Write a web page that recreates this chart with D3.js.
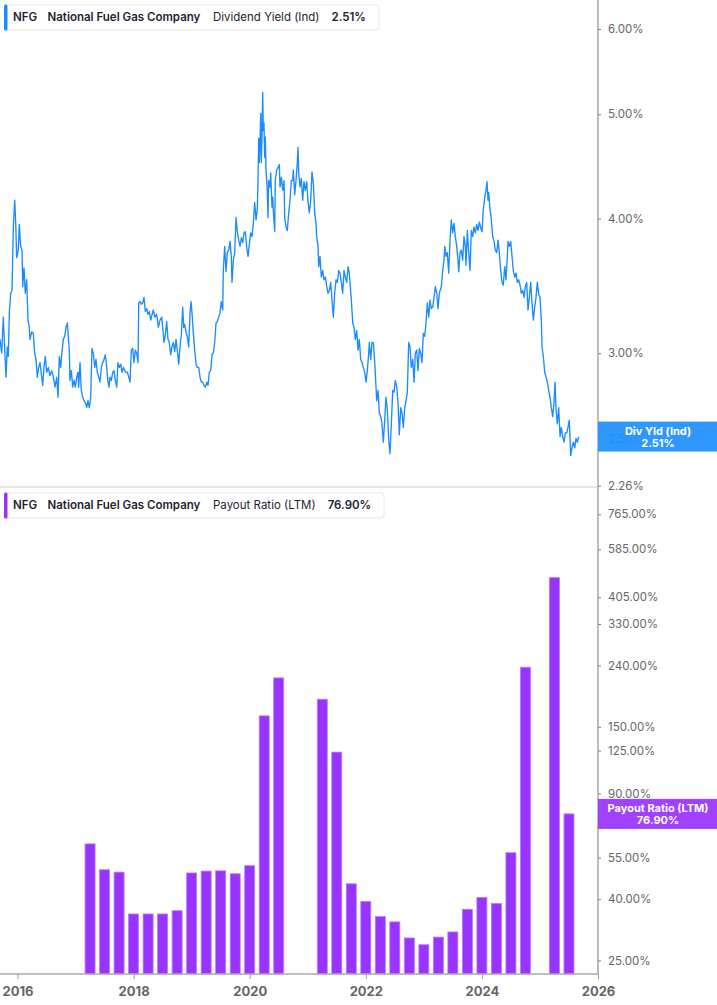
<html lang="en">
<head>
  <script src="https://d3js.org/d3.v7.min.js"></script>
  <style>
    body { margin: 0; background: white; }
    svg { font-family: Inter, "Noto Sans", sans-serif; }
    .tick text { fill: #666; }
  </style>
</head>
<body>
  <svg id="chart" width="717" height="1005"></svg>

  <script>
    // dividend yield (ind), % - dates as decimal years
    const yieldDates = [
      2015.699, 2015.728, 2015.755, 2015.785, 2015.802, 2015.824, 2015.842, 2015.859, 2015.883, 2015.905,
      2015.928, 2015.952, 2015.969, 2015.986, 2016.014, 2016.031, 2016.055, 2016.078, 2016.090, 2016.112,
      2016.134, 2016.158, 2016.181, 2016.203, 2016.215, 2016.245, 2016.272, 2016.296, 2016.319, 2016.341,
      2016.365, 2016.388, 2016.417, 2016.434, 2016.456, 2016.479, 2016.503, 2016.531, 2016.560, 2016.589,
      2016.617, 2016.646, 2016.675, 2016.698, 2016.720, 2016.744, 2016.767, 2016.789, 2016.813, 2016.835,
      2016.858, 2016.875, 2016.892, 2016.904, 2016.927, 2016.951, 2016.973, 2016.996, 2017.020, 2017.042,
      2017.054, 2017.077, 2017.099, 2017.123, 2017.146, 2017.168, 2017.192, 2017.214, 2017.237, 2017.261,
      2017.283, 2017.306, 2017.330, 2017.352, 2017.375, 2017.399, 2017.421, 2017.444, 2017.468, 2017.490,
      2017.513, 2017.537, 2017.559, 2017.576, 2017.594, 2017.616, 2017.640, 2017.662, 2017.685, 2017.709,
      2017.731, 2017.754, 2017.778, 2017.800, 2017.823, 2017.847, 2017.869, 2017.892, 2017.916, 2017.938,
      2017.961, 2017.985, 2018.007, 2018.029, 2018.054, 2018.076, 2018.088, 2018.110, 2018.133, 2018.157,
      2018.179, 2018.202, 2018.226, 2018.248, 2018.271, 2018.295, 2018.339, 2018.369, 2018.398, 2018.426,
      2018.455, 2018.484, 2018.501, 2018.524, 2018.546, 2018.570, 2018.593, 2018.615, 2018.639, 2018.661,
      2018.684, 2018.708, 2018.731, 2018.753, 2018.777, 2018.799, 2018.822, 2018.846, 2018.863, 2018.880,
      2018.903, 2018.925, 2018.949, 2018.972, 2018.989, 2019.006, 2019.029, 2019.053, 2019.075, 2019.097,
      2019.122, 2019.144, 2019.166, 2019.190, 2019.213, 2019.235, 2019.259, 2019.282, 2019.304, 2019.328,
      2019.351, 2019.373, 2019.397, 2019.420, 2019.442, 2019.466, 2019.488, 2019.511, 2019.535, 2019.545,
      2019.569, 2019.592, 2019.614, 2019.638, 2019.661, 2019.683, 2019.695, 2019.718, 2019.742, 2019.764,
      2019.787, 2019.811, 2019.833, 2019.856, 2019.880, 2019.902, 2019.925, 2019.949, 2019.971, 2019.993,
      2020.017, 2020.040, 2020.062, 2020.086, 2020.109, 2020.131, 2020.143, 2020.155, 2020.166, 2020.178,
      2020.190, 2020.200, 2020.212, 2020.224, 2020.234, 2020.246, 2020.258, 2020.269, 2020.281, 2020.293,
      2020.303, 2020.315, 2020.327, 2020.350, 2020.362, 2020.372, 2020.384, 2020.396, 2020.407, 2020.431,
      2020.441, 2020.465, 2020.488, 2020.510, 2020.522, 2020.545, 2020.569, 2020.591, 2020.603, 2020.626,
      2020.648, 2020.672, 2020.695, 2020.717, 2020.741, 2020.751, 2020.775, 2020.798, 2020.820, 2020.832,
      2020.844, 2020.866, 2020.889, 2020.913, 2020.935, 2020.958, 2020.982, 2021.004, 2021.027, 2021.051,
      2021.073, 2021.096, 2021.120, 2021.142, 2021.154, 2021.177, 2021.189, 2021.211, 2021.234, 2021.258,
      2021.280, 2021.303, 2021.327, 2021.349, 2021.372, 2021.396, 2021.418, 2021.441, 2021.464, 2021.487,
      2021.510, 2021.533, 2021.556, 2021.579, 2021.602, 2021.625, 2021.647, 2021.671, 2021.694, 2021.716,
      2021.751, 2021.775, 2021.797, 2021.819, 2021.843, 2021.866, 2021.888, 2021.912, 2021.935, 2021.957,
      2021.981, 2022.004, 2022.026, 2022.050, 2022.061, 2022.085, 2022.107, 2022.130, 2022.154, 2022.176,
      2022.188, 2022.211, 2022.233, 2022.257, 2022.279, 2022.302, 2022.326, 2022.348, 2022.371, 2022.395,
      2022.417, 2022.440, 2022.464, 2022.486, 2022.509, 2022.533, 2022.555, 2022.577, 2022.601, 2022.624,
      2022.646, 2022.670, 2022.693, 2022.715, 2022.739, 2022.762, 2022.784, 2022.808, 2022.831, 2022.853,
      2022.877, 2022.899, 2022.922, 2022.946, 2022.968, 2022.991, 2023.015, 2023.037, 2023.060, 2023.084,
      2023.106, 2023.129, 2023.153, 2023.175, 2023.198, 2023.222, 2023.244, 2023.267, 2023.301, 2023.325,
      2023.347, 2023.360, 2023.382, 2023.404, 2023.428, 2023.451, 2023.473, 2023.497, 2023.520, 2023.542,
      2023.566, 2023.588, 2023.601, 2023.623, 2023.645, 2023.669, 2023.692, 2023.714, 2023.726, 2023.749,
      2023.773, 2023.795, 2023.818, 2023.842, 2023.864, 2023.887, 2023.911, 2023.933, 2023.956, 2023.980,
      2024.002, 2024.024, 2024.048, 2024.071, 2024.088, 2024.105, 2024.117, 2024.140, 2024.162, 2024.186,
      2024.209, 2024.231, 2024.255, 2024.278, 2024.300, 2024.324, 2024.347, 2024.369, 2024.393, 2024.415,
      2024.438, 2024.450, 2024.472, 2024.496, 2024.519, 2024.541, 2024.565, 2024.588, 2024.610, 2024.634,
      2024.657, 2024.679, 2024.703, 2024.726, 2024.748, 2024.772, 2024.794, 2024.817, 2024.841, 2024.863,
      2024.886, 2024.910, 2024.932, 2024.955, 2024.979, 2025.001, 2025.024, 2025.036, 2025.058, 2025.082,
      2025.105, 2025.127, 2025.151, 2025.173, 2025.196, 2025.220, 2025.242, 2025.260, 2025.277, 2025.299,
      2025.323, 2025.346, 2025.368, 2025.392, 2025.415, 2025.437, 2025.461, 2025.483, 2025.506, 2025.530,
      2025.552, 2025.575, 2025.599, 2025.621, 2025.644, 2025.668
    ];
    const yieldValues = [
      3.09, 3.00, 3.24, 2.98, 2.85, 3.04, 2.98, 3.27, 3.41, 3.43,
      3.93, 4.16, 3.96, 3.68, 3.74, 3.95, 3.77, 3.74, 3.46, 3.60,
      3.41, 3.51, 3.22, 3.17, 3.09, 3.14, 3.13, 3.00, 2.96, 2.85,
      2.91, 2.94, 2.85, 2.80, 2.91, 2.98, 2.88, 2.91, 2.86, 2.89,
      2.85, 2.79, 2.85, 2.73, 2.98, 2.91, 3.01, 3.09, 3.11, 3.17,
      3.20, 3.11, 3.02, 2.83, 2.89, 2.79, 2.83, 2.79, 2.85, 2.88,
      2.79, 2.94, 2.77, 2.73, 2.71, 2.70, 2.67, 2.71, 2.67, 2.73,
      3.03, 3.00, 2.91, 2.96, 2.88, 2.85, 2.82, 2.91, 2.94, 2.96,
      2.99, 2.91, 2.82, 2.79, 2.85, 2.83, 2.88, 2.89, 2.83, 2.79,
      2.94, 2.91, 2.93, 2.88, 2.91, 2.89, 2.88, 2.88, 2.85, 2.82,
      3.02, 3.03, 2.94, 3.02, 3.00, 2.94, 3.34, 3.35, 3.33, 3.34,
      3.38, 3.28, 3.30, 3.26, 3.28, 3.22, 3.29, 3.24, 3.26, 3.17,
      3.22, 3.24, 3.17, 3.07, 3.12, 3.21, 3.09, 3.07, 2.99, 3.04,
      3.07, 3.01, 3.09, 3.02, 2.93, 3.04, 3.12, 3.31, 3.17, 3.19,
      3.14, 3.11, 3.04, 3.27, 3.35, 3.27, 3.13, 3.02, 2.93, 2.91,
      2.91, 2.85, 2.82, 2.82, 2.80, 2.79, 2.82, 2.80, 2.88, 2.89,
      2.99, 3.00, 3.07, 3.20, 3.21, 3.24, 3.27, 3.35, 3.29, 3.58,
      3.77, 3.57, 3.72, 3.74, 3.81, 3.69, 3.49, 3.66, 3.72, 4.01,
      3.89, 3.82, 3.77, 3.84, 3.80, 3.88, 3.89, 3.76, 3.69, 3.78,
      3.88, 3.85, 3.96, 4.14, 3.99, 4.08, 4.34, 4.75, 4.51, 4.70,
      5.01, 4.51, 4.76, 5.24, 4.83, 4.91, 4.56, 4.76, 4.44, 4.34,
      4.23, 4.01, 4.34, 4.28, 4.41, 4.25, 4.10, 4.19, 4.06, 3.89,
      4.34, 4.44, 4.46, 4.49, 4.28, 4.37, 4.25, 4.34, 4.01, 3.93,
      3.90, 4.05, 4.16, 4.34, 4.34, 4.44, 4.21, 4.34, 4.51, 4.66,
      4.41, 4.28, 4.36, 4.16, 4.33, 4.25, 4.33, 4.15, 4.05, 4.16,
      4.42, 4.32, 4.05, 3.96, 3.85, 3.77, 3.61, 3.69, 3.53, 3.58,
      3.51, 3.53, 3.46, 3.41, 3.43, 3.49, 3.36, 3.24, 3.41, 3.51,
      3.49, 3.58, 3.56, 3.49, 3.41, 3.58, 3.53, 3.49, 3.61, 3.56,
      3.36, 3.20, 3.17, 3.09, 3.15, 3.02, 3.09, 2.96, 2.94, 2.91,
      2.88, 2.82, 2.89, 3.00, 3.07, 2.96, 3.07, 3.07, 2.94, 2.79,
      2.71, 2.77, 2.64, 2.62, 2.58, 2.48, 2.60, 2.73, 2.66, 2.49,
      2.42, 2.58, 2.77, 2.76, 2.83, 2.79, 2.70, 2.52, 2.67, 2.64,
      2.56, 2.67, 2.71, 2.76, 3.07, 3.04, 2.91, 2.96, 2.82, 3.00,
      3.02, 2.89, 3.03, 3.00, 2.94, 3.13, 3.11, 3.20, 3.34, 3.24,
      3.36, 3.30, 3.31, 3.38, 3.46, 3.41, 3.30, 3.41, 3.46, 3.58,
      3.66, 3.77, 3.69, 3.72, 3.56, 3.82, 3.99, 3.88, 3.96, 3.85,
      3.77, 3.66, 3.57, 3.72, 3.74, 3.66, 3.85, 3.77, 3.62, 3.90,
      3.72, 3.58, 3.90, 3.85, 3.93, 3.88, 3.95, 3.90, 3.97, 3.92,
      3.89, 4.08, 4.18, 4.25, 4.33, 4.16, 4.23, 4.08, 3.99, 3.85,
      3.81, 3.74, 3.72, 3.82, 3.72, 3.58, 3.49, 3.47, 3.61, 3.51,
      3.69, 3.81, 3.77, 3.81, 3.69, 3.58, 3.53, 3.56, 3.49, 3.51,
      3.47, 3.41, 3.43, 3.38, 3.46, 3.49, 3.29, 3.38, 3.49, 3.34,
      3.22, 3.31, 3.38, 3.49, 3.40, 3.38, 3.22, 3.04, 2.98, 2.88,
      2.85, 2.82, 2.77, 2.73, 2.67, 2.62, 2.70, 2.82, 2.66, 2.58,
      2.67, 2.51, 2.56, 2.51, 2.48, 2.53, 2.53, 2.56, 2.60, 2.41,
      2.45, 2.48, 2.45, 2.50, 2.48, 2.51
    ];

    // payout ratio (LTM), % - one bar per quarter end, null = not shown
    const payoutQuarters = [
      "2017Q1", "2017Q2", "2017Q3", "2017Q4", "2018Q1", "2018Q2", "2018Q3", "2018Q4",
      "2019Q1", "2019Q2", "2019Q3", "2019Q4", "2020Q1", "2020Q2", "2020Q3", "2020Q4",
      "2021Q1", "2021Q2", "2021Q3", "2021Q4", "2022Q1", "2022Q2", "2022Q3", "2022Q4",
      "2023Q1", "2023Q2", "2023Q3", "2023Q4", "2024Q1", "2024Q2", "2024Q3", "2024Q4",
      "2025Q1", "2025Q2"
    ];
    const payoutValues = [
      61.1, 50.1, 49.2, 35.7, 35.7, 35.7, 36.6, 48.9,
      49.6, 49.7, 48.6, 51.7, 163.1, 218.2, null, null,
      185.3, 123.5, 45.0, 39.3, 35.0, 33.6, 29.7, 28.2,
      29.9, 31.1, 37.0, 40.5, 38.7, 57.1, 236.8, null,
      470.6, 76.9
    ];

    const yearTicks = [2016, 2018, 2020, 2022, 2024, 2026];
    const yieldTicks = [2.26, 2.5, 3, 4, 5, 6];
    const payoutTicks = [25, 40, 55, 90, 125, 150, 240, 330, 405, 585, 765];

    const lastYield = 2.51;
    const lastPayout = 76.90;

    const svg = d3.select("#chart");
    const plotRight = 598;
    const topPanel = { top: 0, bottom: 487 };
    const botPanel = { top: 488, bottom: 974 };
    const blue = "#1a8cff";
    const purple = "#9933ff";

    const x = d3.scaleLinear().domain([2015.6985, 2026.0]).range([0, plotRight]);
    const yTop = d3.scaleLog().domain([2.2535, 6.384]).range([topPanel.bottom, topPanel.top]);
    const yBot = d3.scaleLog().domain([22.53, 936]).range([botPanel.bottom, botPanel.top]);

    // separator between panels
    svg.append("line")
      .attr("x1", 0).attr("x2", plotRight)
      .attr("y1", topPanel.bottom).attr("y2", topPanel.bottom)
      .attr("stroke", "#dcdcdc").attr("stroke-width", 1.3);

    // dividend yield line
    const yieldData = yieldDates.map((d, i) => ({ date: d, value: yieldValues[i] }));
    const line = d3.line().x(d => x(d.date)).y(d => yTop(d.value));
    svg.append("path")
      .datum(yieldData)
      .attr("fill", "none")
      .attr("stroke", blue)
      .attr("stroke-width", 1.35)
      .attr("stroke-linejoin", "round")
      .attr("d", line);

    // payout bars
    const quarterEnd = q => +q.slice(0, 4) + (+q.slice(5)) / 4;
    const barW = (x(0.25) - x(0)) * 0.69;
    const barData = payoutQuarters.map((q, i) => ({ t: quarterEnd(q), value: payoutValues[i] }))
      .filter(d => d.value != null);
    svg.append("g").selectAll("rect")
      .data(barData)
      .enter()
      .append("rect")
      .attr("x", d => x(d.t) - barW / 2)
      .attr("width", barW)
      .attr("y", d => yBot(d.value))
      .attr("height", d => botPanel.bottom - yBot(d.value))
      .attr("fill", purple)
      .attr("stroke", "#b67cff")
      .attr("stroke-width", 0.8);

    // right axes
    const axisTop = svg.append("g")
      .attr("transform", "translate(" + plotRight + ",0)")
      .call(d3.axisRight(yTop).tickValues(yieldTicks).tickSize(3).tickPadding(7)
        .tickFormat(d => d.toFixed(2) + "%"));
    const axisBot = svg.append("g")
      .attr("transform", "translate(" + plotRight + ",0)")
      .call(d3.axisRight(yBot).tickValues(payoutTicks).tickSize(3).tickPadding(7)
        .tickFormat(d => d.toFixed(2) + "%"));
    [axisTop, axisBot].forEach(a => {
      a.select(".domain").remove();
      a.selectAll(".tick line").attr("stroke", "#777");
      a.selectAll(".tick text").attr("font-size", 11.5).attr("font-family", "Inter, sans-serif");
    });

    // bottom axis
    const axisX = svg.append("g")
      .attr("transform", "translate(0," + botPanel.bottom + ")")
      .call(d3.axisBottom(x).tickValues(yearTicks).tickSize(5).tickPadding(8)
        .tickFormat(d3.format("d")));
    axisX.select(".domain").remove();
    axisX.selectAll(".tick line").attr("stroke", "#999");
    axisX.selectAll(".tick text")
      .attr("font-size", 13).attr("font-weight", 700)
      .attr("font-family", "Inter, sans-serif");

    svg.append("line")
      .attr("x1", 0).attr("x2", plotRight)
      .attr("y1", botPanel.bottom).attr("y2", botPanel.bottom)
      .attr("stroke", "#aaa").attr("stroke-width", 1.3);
    svg.append("line")
      .attr("x1", plotRight).attr("x2", plotRight)
      .attr("y1", 0).attr("y2", botPanel.bottom)
      .attr("stroke", "#999").attr("stroke-width", 1.3);

    // last value tags on the axis (tick label shows faintly through, as in the source)
    function valueTag(yPos, color, title, value) {
      const g = svg.append("g");
      g.append("rect")
        .attr("x", plotRight).attr("y", yPos - 15)
        .attr("width", 717 - plotRight).attr("height", 30)
        .attr("fill", color)
        .attr("fill-opacity", 0.93);
      g.append("text")
        .attr("x", plotRight + 60).attr("y", yPos - 2)
        .attr("text-anchor", "middle")
        .attr("fill", "white").attr("font-size", 11).attr("font-weight", 700)
        .text(title);
      g.append("text")
        .attr("x", plotRight + 60).attr("y", yPos + 10)
        .attr("text-anchor", "middle")
        .attr("fill", "white").attr("font-size", 11).attr("font-weight", 700)
        .text(value);
    }
    valueTag(yTop(lastYield), "#1e90ff", "Div Yld (Ind)", lastYield.toFixed(2) + "%");
    valueTag(yBot(lastPayout), purple, "Payout Ratio (LTM)", lastPayout.toFixed(2) + "%");

    // legend boxes
    function legend(top, color, metric, value) {
      const g = svg.append("g");
      const box = g.append("rect")
        .attr("x", 4.5).attr("y", top + 0.5)
        .attr("height", 25).attr("rx", 3)
        .attr("fill", "white").attr("stroke", "#e6e6e6");
      g.append("rect")
        .attr("x", 4).attr("y", top)
        .attr("width", 3.5).attr("height", 26)
        .attr("rx", 1.5)
        .attr("fill", color);
      const base = top + 16.5;
      const parts = [
        { x: 13, text: "NFG", w: 600 },
        { x: 47.5, text: "National Fuel Gas Company", w: 600 },
        { x: 213, text: metric, w: 400 },
        { x: null, text: value, w: 600 }
      ];
      let last;
      parts.forEach(p => {
        const t = g.append("text")
          .attr("y", base)
          .attr("font-size", 11.5)
          .attr("font-weight", p.w)
          .attr("fill", "#1f2233")
          .text(p.text);
        if (p.x == null) {
          const prev = last.node();
          t.attr("x", +last.attr("x") + prev.getComputedTextLength() + 12);
        } else {
          t.attr("x", p.x);
        }
        last = t;
      });
      const endX = +last.attr("x") + last.node().getComputedTextLength() + 13;
      box.attr("width", endX - 4.5);
    }
    legend(4.5, blue, "Dividend Yield (Ind)", lastYield.toFixed(2) + "%");
    legend(492.5, purple, "Payout Ratio (LTM)", lastPayout.toFixed(2) + "%");
  </script>
</body>
</html>
